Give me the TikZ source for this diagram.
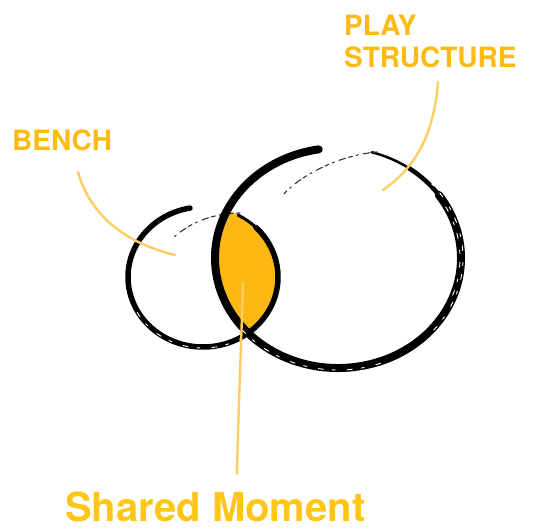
\documentclass[tikz,border=0pt]{standalone}
\usepackage{fontspec}
\setmainfont{TeX Gyre Heros}
\definecolor{gold}{HTML}{FDB813}
\definecolor{goldtext}{HTML}{FDBA12}
\definecolor{goldbig}{HTML}{FFC618}
\definecolor{leader}{HTML}{FFCC66}
\begin{document}
\begin{tikzpicture}[x=1pt,y=-1pt,
  lbl/.style={text=goldtext,font=\fontsize{28}{32}\selectfont\bfseries,inner sep=0pt,align=left},
  brush/.style={draw=black,line cap=round,line join=round},
  dry/.style={draw=black!80,line width=1.1pt,line cap=round,dash pattern=on 4pt off 3pt on 7pt off 5pt on 2pt off 4pt},
  speck/.style={draw=white,line width=0.9pt,line cap=round,dash pattern=on 5pt off 9pt on 3pt off 12pt},
  leaderline/.style={draw=leader,line width=2.4pt,line cap=round}]
\useasboundingbox (0,0) rectangle (537,529);
\coordinate (bigc) at (338,258);
\coordinate (smc) at (203,277);
% lens fill
\begin{scope}
  \clip (bigc) ellipse [x radius=123, y radius=110];
  \fill[gold] (smc) ellipse [x radius=75, y radius=70];
\end{scope}
% small circle (bench)
\draw[brush,line width=5.5pt] (smc) ++(260:75 and 70) arc[start angle=260, end angle=-45, x radius=75, y radius=70];
\draw[brush,line width=3pt] (smc) ++(-45:75 and 70) arc[start angle=-45, end angle=-62, x radius=75, y radius=70];
\draw[speck] (smc) ++(150:76 and 71) arc[start angle=150, end angle=60, x radius=76, y radius=71];
\coordinate (sa) at (240,213);
\coordinate (sb) at (173,238);
\draw[dry] (sa) .. controls (215,213) and (190,222) .. (sb);
% big circle (play structure)
\draw[brush,line width=8pt] (bigc) ++(261:123 and 110) arc[start angle=261, end angle=-35, x radius=123, y radius=110];
\draw[brush,line width=4.5pt] (bigc) ++(-35:123 and 110) arc[start angle=-35, end angle=-55, x radius=123, y radius=110];
\draw[brush,line width=2.5pt] (bigc) ++(-55:123 and 110) arc[start angle=-55, end angle=-74, x radius=123, y radius=110];
\draw[speck] (bigc) ++(40:125 and 112) arc[start angle=40, end angle=-45, x radius=125, y radius=112];
\draw[speck] (bigc) ++(20:122 and 109) arc[start angle=20, end angle=-30, x radius=122, y radius=109];
\draw[speck] (bigc) ++(140:125 and 112) arc[start angle=140, end angle=70, x radius=125, y radius=112];
\coordinate (ba) at (377,152);
\coordinate (bb) at (282,196);
\draw[dry] (ba) .. controls (340,155) and (300,175) .. (bb);
% labels
\node[lbl,anchor=north west] (play) at (344,15) {PLAY\\STRUCTURE};
\node[lbl,anchor=north west] (bench) at (12,130) {BENCH};
\node[text=goldbig,font=\fontsize{40}{44}\selectfont\bfseries,inner sep=0pt,anchor=base west] (shared) at (65,521) {Shared Moment};
% leader lines
\coordinate (p1) at (438,82);
\coordinate (p2) at (383,190);
\draw[leaderline] (p1) .. controls (434,135) and (415,168) .. (p2);
\coordinate (b1) at (78,172);
\coordinate (b2) at (175,255);
\draw[leaderline] (b1) .. controls (90,215) and (125,243) .. (b2);
\coordinate (m1) at (243,283);
\coordinate (m2) at (237,474);
\draw[leaderline] (m1) .. controls (241,350) and (238,420) .. (m2);
\end{tikzpicture}
\end{document}
